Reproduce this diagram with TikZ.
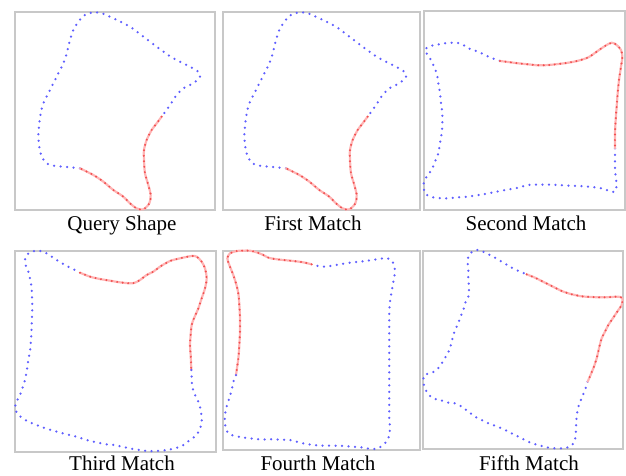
\documentclass[tikz,border=0pt]{standalone}
\usepackage{fontspec}
\setmainfont{Liberation Serif}
\definecolor{boxgray}{RGB}{200,200,200}
\definecolor{dotblue}{RGB}{95,95,255}
\definecolor{dotred}{RGB}{240,80,80}
\definecolor{linered}{RGB}{255,180,180}
\begin{document}
\begin{tikzpicture}[x=1pt,y=-1pt,
  panel/.style={draw=boxgray,line width=1.5pt},
  caption/.style={anchor=base,inner sep=0pt,font=\fontsize{21}{25}\selectfont},
  bluedots/.style={draw=dotblue,line width=2.5pt,line cap=round,dash pattern=on 0pt off 6.5pt},
  redpart/.style={draw=linered,line width=2.2pt,line cap=round,
    postaction={draw=dotred,line width=2.2pt,line cap=round,dash pattern=on 0pt off 5.5pt}},
  z3/.style={x=1pt/3,y=-1pt/3}]
\useasboundingbox (0,0) rectangle (626,475);
% panels
\node[panel,inner sep=0pt,minimum width=200pt,minimum height=198pt,anchor=north west] (p1) at (14,11) {};
\node[panel,inner sep=0pt,minimum width=197pt,minimum height=198pt,anchor=north west] (p2) at (222,11) {};
\node[panel,inner sep=0pt,minimum width=201pt,minimum height=199pt,anchor=north west] (p3) at (423,10) {};
\node[panel,inner sep=0pt,minimum width=201pt,minimum height=201pt,anchor=north west] (p4) at (14,250) {};
\node[panel,inner sep=0pt,minimum width=197pt,minimum height=199pt,anchor=north west] (p5) at (222,250) {};
\node[panel,inner sep=0pt,minimum width=200pt,minimum height=198pt,anchor=north west] (p6) at (422,250) {};
% captions
\node[caption] (c1) at (122,230.6) {Query Shape};
\node[caption] (c2) at (313,230.6) {First Match};
\node[caption] (c3) at (526,230.6) {Second Match};
\node[caption] (c4) at (122,470) {Third Match};
\node[caption] (c5) at (318,470) {Fourth Match};
\node[caption] (c6) at (529,470) {Fifth Match};
% shape 1 and 2
\foreach \dx in {0,206}{
\begin{scope}[shift={(\dx,0)},z3]
\draw[bluedots] plot[smooth] coordinates {(240,505) (190,500) (160,497) (140,490) (125,470) (118,440) (115,410) (117,380) (122,340) (130,310) (145,280) (160,250) (175,220) (190,190) (200,160) (210,120) (220,90) (235,65) (250,48) (262,40) (300,38) (340,55) (390,80) (430,110) (470,140) (520,175) (570,200) (595,215) (600,230) (580,250) (550,265) (530,285) (510,315) (485,350)};
\draw[redpart] plot[smooth] coordinates {(485,350) (470,370) (455,390) (440,420) (432,450) (432,480) (435,520) (445,555) (452,585) (448,610) (430,628) (410,625) (390,610) (370,590) (340,570) (310,545) (280,525) (240,505)};
\end{scope}}
% shape 3
\begin{scope}[shift={(415,0)},z3]
\draw[bluedots] plot[smooth] coordinates {(600,445) (600,470) (600,500) (602,530) (605,555) (600,575) (580,572) (560,565) (540,562) (520,560) (490,558) (460,557) (430,555) (400,554) (370,554) (345,554) (320,560) (300,565) (280,568) (260,572) (230,578) (210,582) (185,586) (160,590) (130,592) (100,595) (80,595) (60,593) (40,588) (30,578) (25,555) (35,530) (50,510) (60,485) (70,460) (75,430) (80,400) (82,370) (82,340) (78,310) (75,280) (70,250) (65,220) (55,195) (45,175) (35,160) (30,150) (40,140) (60,135) (90,130) (120,128) (140,132) (160,145) (180,152) (200,160) (220,170) (255,183)};
\draw[redpart] plot[smooth] coordinates {(255,183) (280,186) (310,190) (340,193) (370,196) (400,195) (430,192) (460,188) (490,182) (520,172) (545,155) (570,138) (590,128) (605,135) (618,150) (622,170) (618,200) (612,240) (608,280) (605,320) (602,360) (600,400) (600,445)};
\end{scope}
% shape 4
\begin{scope}[shift={(0,235)},z3]
\draw[redpart] plot[smooth] coordinates {(240,113) (270,125) (300,132) (330,137) (360,142) (390,145) (405,143) (420,135) (440,120) (460,110) (480,95) (510,78) (540,70) (575,63) (590,65) (605,80) (615,100) (620,130) (615,160) (605,190) (595,220) (582,250) (575,270) (572,300) (570,330) (572,360) (574,405)};
\draw[bluedots] plot[smooth] coordinates {(574,405) (575,435) (578,460) (585,480) (595,500) (603,530) (605,560) (600,580) (590,600) (570,615) (550,630) (525,640) (500,645) (470,648) (440,648) (400,642) (370,636) (345,630) (320,628) (290,622) (260,615) (230,605) (200,598) (170,590) (130,578) (105,568) (85,560) (65,548) (50,532) (45,515) (52,495) (62,475) (72,445) (78,420) (82,395) (86,370) (90,350) (92,325) (94,300) (95,270) (96,240) (97,210) (96,180) (95,160) (90,130) (85,110) (78,95) (75,75) (80,60) (95,50) (115,47) (135,52) (155,65) (175,78) (195,90) (215,100) (240,113)};
\end{scope}
% shape 5
\begin{scope}[shift={(210,235)},z3]
\draw[redpart] plot[smooth] coordinates {(305,88) (280,82) (250,78) (220,75) (195,72) (175,68) (160,60) (140,52) (120,47) (100,47) (80,48) (60,55) (52,70) (58,90) (68,115) (78,145) (85,175) (88,210) (90,250) (90,290) (88,330) (85,370) (78,420)};
\draw[bluedots] plot[smooth] coordinates {(78,420) (70,440) (65,465) (58,490) (50,515) (45,540) (45,565) (52,590) (65,600) (90,606) (120,610) (150,613) (180,613) (210,614) (240,615) (260,620) (280,625) (310,630) (340,632) (370,632) (400,633) (430,635) (455,637) (475,641) (500,641) (520,630) (535,610) (540,580) (538,550) (538,520) (538,490) (538,450) (538,420) (538,380) (538,340) (538,300) (538,260) (538,230) (540,200) (545,170) (550,140) (555,110) (550,85) (540,72) (520,70) (500,73) (480,76) (450,80) (420,83) (390,88) (360,93) (340,95) (320,92) (305,88)};
\end{scope}
% shape 6
\begin{scope}[shift={(415,235)},z3]
\draw[bluedots] plot[smooth] coordinates {(518,440) (510,465) (500,490) (490,515) (485,545) (483,575) (482,600) (478,620) (465,635) (440,640) (420,640) (395,637) (370,630) (350,625) (330,615) (300,600) (280,590) (260,580) (240,572) (220,565) (200,555) (180,545) (160,530) (140,515) (120,505) (95,502) (75,495) (55,490) (40,478) (30,460) (25,440) (28,420) (45,415) (65,405) (80,385) (95,360) (105,340) (115,300) (125,275) (135,250) (145,225) (150,205) (160,185) (162,160) (160,130) (160,100) (158,85) (160,65) (165,55) (185,45) (200,48) (220,58) (240,68) (260,80) (280,92) (300,103) (320,112) (335,118)};
\draw[redpart] plot[smooth] coordinates {(335,118) (360,128) (380,138) (400,148) (420,158) (440,168) (460,175) (480,180) (500,184) (530,186) (560,187) (590,186) (610,185) (622,190) (620,210) (610,225) (600,240) (590,255) (580,270) (570,290) (560,310) (552,340) (545,370) (535,400) (518,440)};
\end{scope}
\end{tikzpicture}
\end{document}
